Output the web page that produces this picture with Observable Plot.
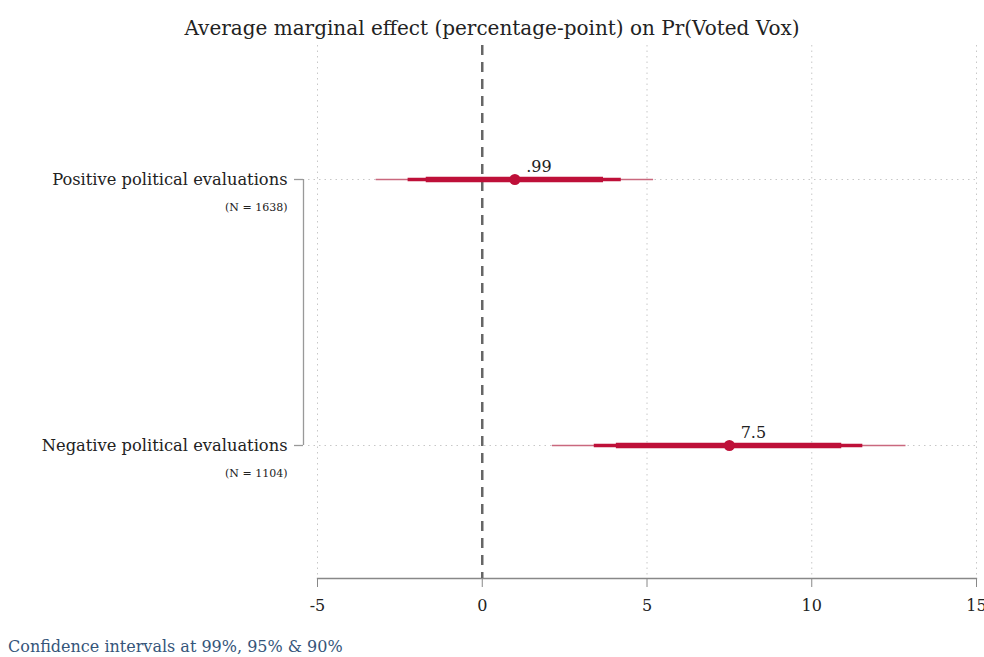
<!DOCTYPE html>
<html>
<head>
<meta charset="utf-8">
<script src="https://cdn.jsdelivr.net/npm/d3@7"></script>
<script src="https://cdn.jsdelivr.net/npm/@observablehq/plot@0.6"></script>
<style>
  body { margin: 0; background: #fff; width: 984px; height: 657px; overflow: hidden; font-family: "DejaVu Serif", serif; }
  #title { height: 42px; line-height: 56px; text-align: center; font-size: 20px; color: #222; white-space: nowrap; }
  #caption { margin-top: 19px; padding-left: 8px; font-size: 16px; color: #35557a; white-space: nowrap; }
  svg { display: block; }
</style>
</head>
<body>
<div id="title">Average marginal effect (percentage-point) on Pr(Voted Vox)</div>
<div id="chart"></div>
<div id="caption">Confidence intervals at 99%, 95% &amp; 90%</div>
<script>
const groups = ["Positive political evaluations", "Negative political evaluations"];
const nLabels = ["(N = 1638)", "(N = 1104)"];
const estimates = [0.99, 7.5];
const estLabels = [".99", "7.5"];
const lo99 = [-3.22, 2.13];
const hi99 = [5.20, 12.86];
const lo95 = [-2.25, 3.40];
const hi95 = [4.22, 11.55];
const lo90 = [-1.70, 4.07];
const hi90 = [3.68, 10.91];
const xTicks = [-5, 0, 5, 10, 15];

const rows = groups.map((g, i) => ({
  group: g, n: nLabels[i], est: estimates[i], label: estLabels[i],
  lo99: lo99[i], hi99: hi99[i], lo95: lo95[i], hi95: hi95[i], lo90: lo90[i], hi90: hi90[i]
}));

const red = "#be1039";
const serif = "DejaVu Serif, serif";

const chart = Plot.plot({
  width: 984,
  height: 576,
  marginTop: 3,
  marginBottom: 40,
  marginLeft: 317,
  marginRight: 8,
  style: { fontFamily: serif, background: "#fff" },
  x: { domain: [-5, 15], label: null },
  y: { domain: groups, type: "point", padding: 0.5, axis: null },
  marks: [
    Plot.ruleX(xTicks.filter(d => d !== 0), { stroke: "#c8c8c8", strokeDasharray: "1.5,4", strokeWidth: 1 }),
    Plot.ruleY(rows, { y: "group", stroke: "#c8c8c8", strokeDasharray: "1.5,4", strokeWidth: 1, insetLeft: -9 }),
    Plot.axisX({ ticks: xTicks, tickSize: 9, tickPadding: 12, fontSize: 16, stroke: "#888", color: "#222", tickFormat: d => String(d) }),
    Plot.frame({ anchor: "bottom", stroke: "#888", strokeWidth: 1.3 }),
    Plot.ruleX([0], { stroke: "#666", strokeWidth: 2.5, strokeDasharray: "10,7" }),
    Plot.ruleY(rows, { y: "group", x1: "lo99", x2: "hi99", stroke: "#c9687e", strokeWidth: 1.5 }),
    Plot.ruleY(rows, { y: "group", x1: "lo95", x2: "hi95", stroke: red, strokeWidth: 3.5 }),
    Plot.ruleY(rows, { y: "group", x1: "lo90", x2: "hi90", stroke: red, strokeWidth: 5.5 }),
    Plot.dot(rows, { x: "est", y: "group", r: 5.5, fill: red, stroke: null }),
    Plot.text(rows, { x: "est", y: "group", text: "label", dx: 24, dy: -13, fontSize: 16, fill: "#222" }),
    Plot.text(rows, { y: "group", text: "group", frameAnchor: "left", dx: -30, textAnchor: "end", fontSize: 16.3, fill: "#222" }),
    Plot.text(rows, { y: "group", text: "n", frameAnchor: "left", dx: -30, dy: 28, textAnchor: "end", fontSize: 11, fill: "#222" }),
    // bracket connecting the two groups
    Plot.ruleX([-5], { y1: () => groups[0], y2: () => groups[1], dx: -14, stroke: "#999", strokeWidth: 1.3 }),
    Plot.ruleY(rows, { y: "group", x1: -5, x2: -5, dx: -14, insetLeft: -9, stroke: "#999", strokeWidth: 1.3 })
  ]
});
document.getElementById("chart").appendChild(chart);
</script>
</body>
</html>
